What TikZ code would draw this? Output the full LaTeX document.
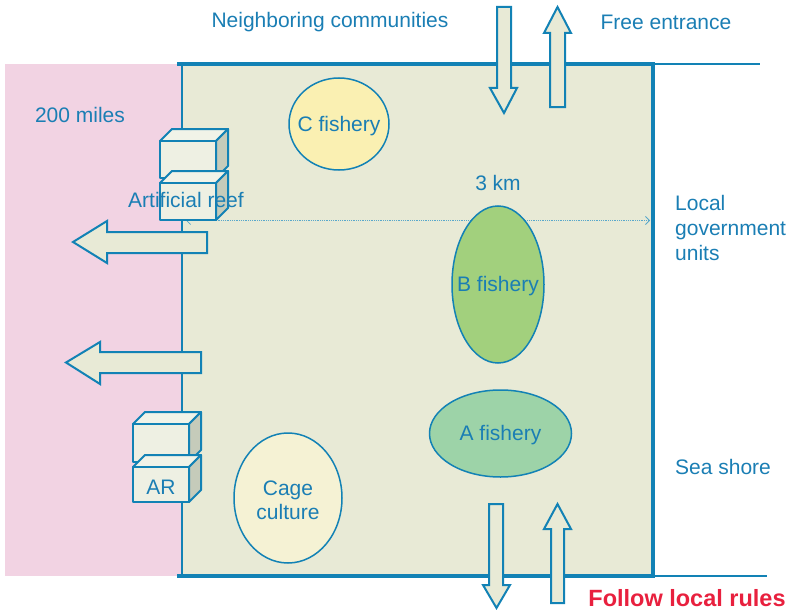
\documentclass[tikz,border=0pt]{standalone}
\usepackage{fontspec}
\setmainfont{Liberation Sans}
\usetikzlibrary{shapes.geometric,arrows.meta}

\definecolor{lineblue}{HTML}{1282B5}
\definecolor{textblue}{HTML}{1A7EB4}
\definecolor{seafill}{HTML}{E8EAD6}
\definecolor{offshore}{HTML}{F2D3E3}
\definecolor{cubefront}{HTML}{EEF0E3}
\definecolor{cubetop}{HTML}{F1F3E8}
\definecolor{cubeside}{HTML}{C5CBBA}
\definecolor{rulered}{HTML}{E8203E}
\definecolor{cfill}{HTML}{FAF0B2}
\definecolor{bfill}{HTML}{A2D07D}
\definecolor{afill}{HTML}{9DD3A8}
\definecolor{cagefill}{HTML}{F5F2D4}

\tikzset{
  label text/.style={font=\fontsize{21}{25}\selectfont, text=textblue, inner sep=0pt,
                     align=center, yshift=-2pt},
  zone/.style={ellipse, draw=lineblue, line width=1.5pt, inner sep=0pt, outer sep=0pt},
  border thick/.style={draw=lineblue, line width=3.5pt},
  border thin/.style={draw=lineblue, line width=1.5pt},
  block arrow/.style={draw=lineblue, fill=seafill, line width=2pt, line join=miter},
  cube edge/.style={draw=lineblue, line width=2pt, line join=round},
}

% a reef block: front face at (#1,#2), width #3, height #4
\newcommand\reefcube[4]{%
  \path[cube edge, fill=cubetop]
    (#1,#2) -- ++(12,-12) -- ++(#3,0) -- ++(-12,12) -- cycle;
  \path[cube edge, fill=cubeside]
    (#1+#3,#2) -- ++(12,-12) -- ++(0,#4) -- ++(-12,12) -- cycle;
  \path[cube edge, fill=cubefront]
    (#1,#2) rectangle ++(#3,#4);
}

\begin{document}
\begin{tikzpicture}[x=1pt,y=-1pt]
\useasboundingbox (0,0) rectangle (790,610);

% offshore and coastal waters
\fill[offshore] (5,64) rectangle (182,576);
\fill[seafill] (182,64) rectangle (653,576);

% boundaries of the coastal zone
\coordinate (nw) at (182,64);
\coordinate (ne) at (653,64);
\coordinate (se) at (653,576);
\coordinate (sw) at (182,576);
\coordinate (topend) at (760,64);
\coordinate (botend) at (767,576);
\draw[border thin] (nw) -- (sw);
\draw[border thick, line cap=rect] (179,64) -- (ne) -- (se) -- (179,576);
\draw[border thin] (ne) -- (topend);
\draw[border thin] (se) -- (botend);

% 3 km limit
\coordinate (kmleft) at (186,220.5);
\coordinate (kmright) at (650,220.5);
\draw[lineblue!70, densely dotted, line width=0.8pt, {Straight Barb[length=4pt]}-{Straight Barb[length=4pt]}]
  (kmleft) -- (kmright);
\node[label text] (km) at (498,181) {3 km};

% fishery zones
\node[zone, fill=cfill, minimum width=100pt, minimum height=92pt] (cfish) at (339,124) {};
\node[zone, fill=bfill, minimum width=92pt, minimum height=157pt] (bfish) at (498,284.5) {};
\node[zone, fill=afill, minimum width=142pt, minimum height=87pt] (afish) at (500.5,433.5) {};
\node[zone, fill=cagefill, minimum width=108pt, minimum height=130pt] (cage) at (288,498) {};
\node[label text] (cfishtext) at (cfish) {C fishery};
\node[label text] (bfishtext) at (bfish) {B fishery};
\node[label text] (afishtext) at (afish) {A fishery};
\node[label text] (cagetext) at (cage) {Cage\\[-1pt]culture};

% artificial reefs
\reefcube{160}{141}{56}{37}
\reefcube{160}{183}{56}{37}
\reefcube{133}{424}{56}{38}
\reefcube{133}{467}{56}{35}
\node[label text] (reef) at (186,198) {Artificial reef};
\node[label text] (ar) at (161,485) {AR};

% movement across the boundaries
\path[block arrow] (497,7) -- (511,7) -- (511,88) -- (517,88) -- (504,113) -- (490,88) -- (497,88) -- cycle;
\path[block arrow] (550,107) -- (565,107) -- (565,33) -- (571,33) -- (557.5,7) -- (544,33) -- (550,33) -- cycle;
\path[block arrow] (489,504) -- (503,504) -- (503,585) -- (510,585) -- (496.5,608) -- (483,585) -- (489,585) -- cycle;
\path[block arrow] (551,603) -- (564,603) -- (564,529) -- (571,529) -- (557.5,504) -- (544,529) -- (551,529) -- cycle;
\path[block arrow] (207,232) -- (107,232) -- (107,221) -- (73,242) -- (107,263) -- (107,253) -- (207,253) -- cycle;
\path[block arrow] (201,352) -- (100,352) -- (100,342) -- (66,362.5) -- (100,384) -- (100,373) -- (201,373) -- cycle;

% labels
\node[label text] (neigh) at (330,20) {Neighboring communities};
\node[label text] (free) at (666,20) {Free entrance};
\node[label text] (miles) at (80,113) {200 miles};
\node[label text, anchor=west, align=left] (lgu) at (675,226) {Local\\government\\units};
\node[label text, anchor=west] (shore) at (675,465) {Sea shore};
\node[inner sep=0pt, text=rulered, font=\fontsize{23.5}{28}\selectfont\bfseries] (rules) at (687,598) {Follow local rules};
\end{tikzpicture}
\end{document}
